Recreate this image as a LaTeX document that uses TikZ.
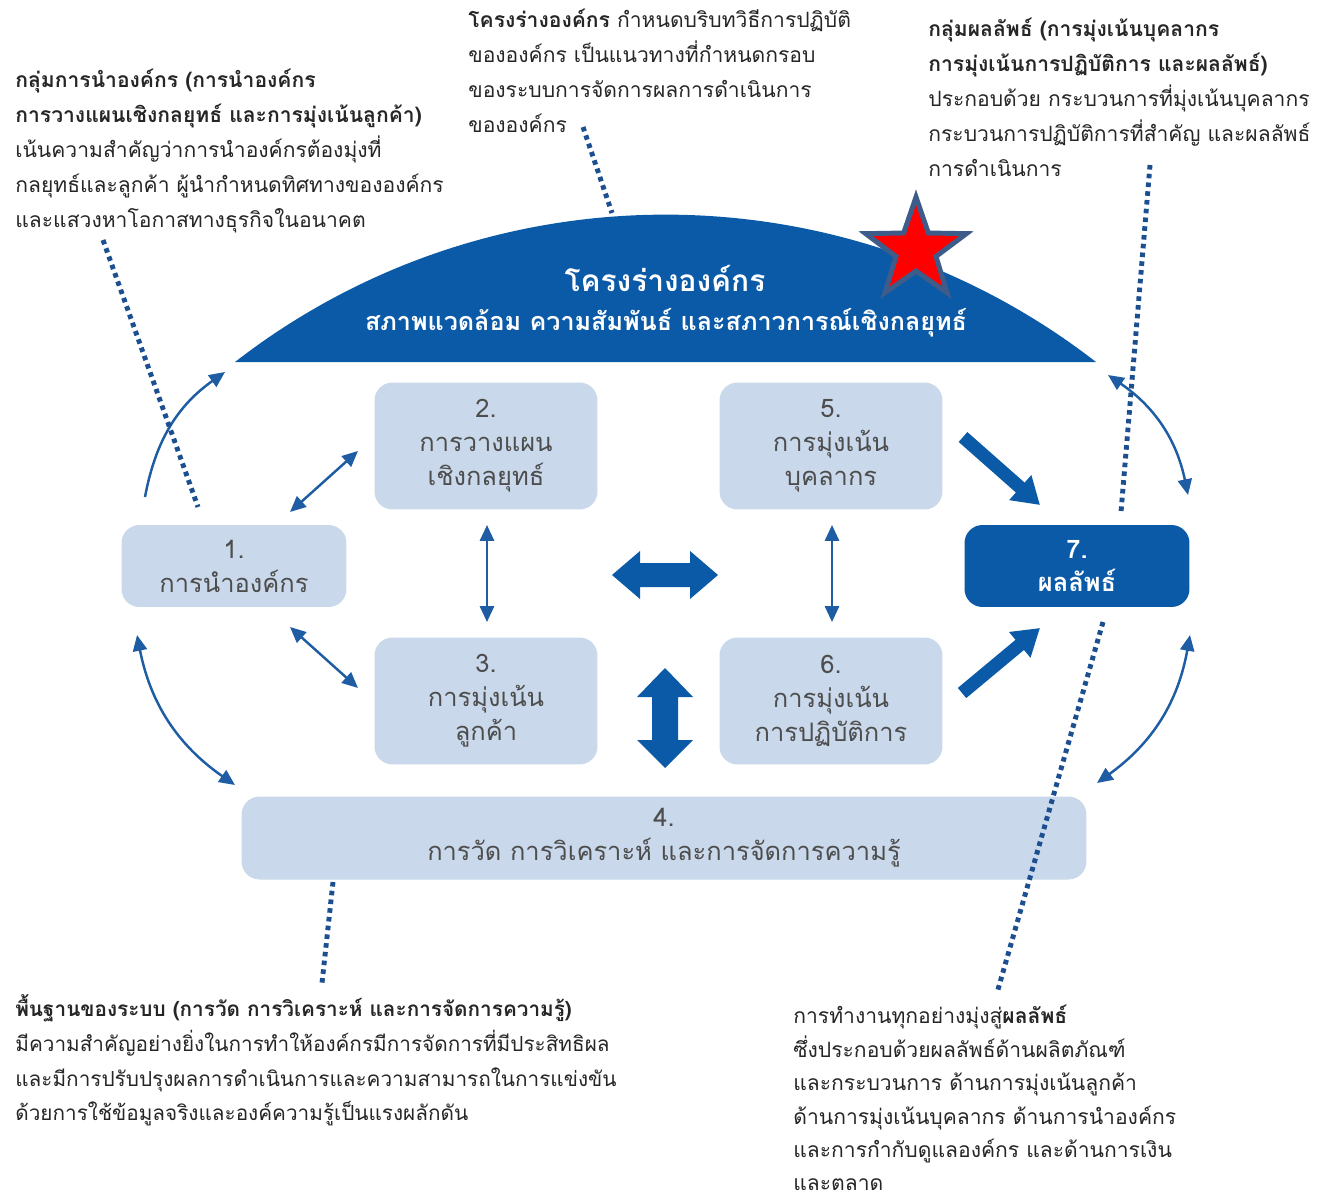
\documentclass[tikz,border=0pt]{standalone}
\usepackage{fontspec}
\setmainfont[Script=Thai]{Loma}
\usetikzlibrary{arrows.meta}
\definecolor{domeblue}{HTML}{0B5AA7}
\definecolor{boxfill}{HTML}{C9D8EA}
\definecolor{boxtext}{HTML}{4D4D4D}
\definecolor{linkblue}{HTML}{1E5DA3}
\definecolor{dotnavy}{HTML}{1C4F8F}
\definecolor{notetext}{HTML}{262626}
\definecolor{starline}{HTML}{3E5C8A}
\definecolor{starfill}{HTML}{FF0000}

\begin{document}
\begin{tikzpicture}[x=0.02cm,y=0.02cm,
  lbox/.style={rectangle, rounded corners=0.36cm, fill=boxfill, text=boxtext,
    align=center, inner sep=0pt, font=\fontsize{14.5}{19.3}\selectfont},
  dbox/.style={rectangle, rounded corners=0.36cm, fill=domeblue, text=white,
    align=center, inner sep=0pt, font=\bfseries\fontsize{14.5}{19.3}\selectfont},
  note/.style={anchor=north west, align=left, inner sep=0pt, text=notetext,
    font=\fontsize{12}{19.85}\selectfont},
  twohead/.style={draw=linkblue, line width=1.4pt,
    arrows={Triangle[length=9pt,width=8pt]-Triangle[length=9pt,width=8pt]}},
  onehead/.style={draw=linkblue, line width=1.4pt,
    arrows={-Triangle[length=9pt,width=8pt]}},
  bigarrow/.style={draw=domeblue, line width=7.5pt,
    arrows={-Triangle[length=15pt,width=18pt]}},
  dotlink/.style={draw=dotnavy, line width=2.8pt, dash pattern=on 2.6pt off 2.4pt},
  blockarrow/.style={fill=domeblue, draw=none}
]
% canvas
\fill[white] (0,0) rectangle (1328,-1203);

% dome of the organizational profile
\fill[domeblue] (235,-362) arc[start angle=127.8, end angle=52.2, radius=702.4] -- cycle;
\node[text=white, font=\bfseries\fontsize{17}{20}\selectfont] (domeA) at (665,-278) {โครงร่างองค์กร};
\node[text=white, font=\bfseries\fontsize{14.3}{17}\selectfont] (domeB) at (666,-323) {สภาพแวดล้อม ความสัมพันธ์ และสภาวการณ์เชิงกลยุทธ์};

% star mark on the dome
\begin{scope}[shift={(916,-250)}]
  \draw[fill=starfill, draw=starline, line width=2.8pt, line join=miter]
    (90:53) -- (126:21) -- (162:53) -- (198:21) -- (234:53) -- (270:21)
    -- (306:53) -- (342:21) -- (18:53) -- (54:21) -- cycle;
\end{scope}

% category boxes
\node[lbox, minimum width=4.5cm, minimum height=1.64cm] (b1) at (234,-566) {1.\\การนำองค์กร};
\node[lbox, minimum width=4.46cm, minimum height=2.54cm] (b2) at (486,-446) {2.\\การวางแผน\\เชิงกลยุทธ์};
\node[lbox, minimum width=4.46cm, minimum height=2.54cm] (b3) at (486,-701) {3.\\การมุ่งเน้น\\ลูกค้า};
\node[lbox, minimum width=4.46cm, minimum height=2.54cm] (b5) at (831,-446) {5.\\การมุ่งเน้น\\บุคลากร};
\node[lbox, minimum width=4.46cm, minimum height=2.54cm] (b6) at (831,-701) {6.\\การมุ่งเน้น\\การปฏิบัติการ};
\node[lbox, minimum width=16.9cm, minimum height=1.66cm] (b4) at (664,-838) {4.\\การวัด การวิเคราะห์ และการจัดการความรู้};
\node[dbox, minimum width=4.5cm, minimum height=1.64cm] (b7) at (1077,-566) {7.\\ผลลัพธ์};

% block double arrows in the middle
\fill[blockarrow] (612,-575) -- (640,-551) -- (640,-563) -- (690,-563) -- (690,-551)
  -- (718,-575) -- (690,-599) -- (690,-587) -- (640,-587) -- (640,-599) -- cycle;
\fill[blockarrow] (665,-668) -- (693,-697) -- (678,-697) -- (678,-740) -- (693,-740)
  -- (665,-768) -- (637,-740) -- (652,-740) -- (652,-697) -- (637,-697) -- cycle;

% connector end points
\coordinate (c1up) at (145,-497);
\coordinate (cdomeL) at (225,-372);
\coordinate (c12a) at (290,-512);
\coordinate (c12b) at (358,-451);
\coordinate (c13a) at (290,-627);
\coordinate (c13b) at (358,-688);
\coordinate (c23a) at (487,-525);
\coordinate (c23b) at (487,-622);
\coordinate (c56a) at (832,-525);
\coordinate (c56b) at (832,-622);
\coordinate (c14a) at (137,-635);
\coordinate (c14b) at (235,-785);
\coordinate (cdomeR) at (1108,-375);
\coordinate (c7up) at (1188,-495);
\coordinate (c7dn) at (1190,-635);
\coordinate (c4R) at (1097,-783);
\coordinate (c57a) at (963,-437);
\coordinate (c57b) at (1040,-505);
\coordinate (c67a) at (962,-693);
\coordinate (c67b) at (1040,-628);

% thin links
\draw[onehead] (c1up) to[bend left=22] (cdomeL);
\draw[twohead] (c12a) -- (c12b);
\draw[twohead] (c13a) -- (c13b);
\draw[twohead] (c23a) -- (c23b);
\draw[twohead] (c56a) -- (c56b);
\draw[twohead] (c14a) to[bend right=22] (c14b);
\draw[twohead] (cdomeR) to[bend left=22] (c7up);
\draw[twohead] (c7dn) to[bend left=22] (c4R);

% thick links into results
\draw[bigarrow] (c57a) -- (c57b);
\draw[bigarrow] (c67a) -- (c67b);

% explanatory notes
\node[note] (nA) at (15,-69) {\textbf{กลุ่มการนำองค์กร (การนำองค์กร}\\
  \textbf{การวางแผนเชิงกลยุทธ์ และการมุ่งเน้นลูกค้า)}\\
  เน้นความสำคัญว่าการนำองค์กรต้องมุ่งที่\\
  กลยุทธ์และลูกค้า ผู้นำกำหนดทิศทางขององค์กร\\
  และแสวงหาโอกาสทางธุรกิจในอนาคต};
\node[note] (nB) at (468,-9) {\textbf{โครงร่างองค์กร} กำหนดบริบทวิธีการปฏิบัติ\\
  ขององค์กร เป็นแนวทางที่กำหนดกรอบ\\
  ของระบบการจัดการผลการดำเนินการ\\
  ขององค์กร};
\node[note] (nC) at (928,-18) {\textbf{กลุ่มผลลัพธ์ (การมุ่งเน้นบุคลากร}\\
  \textbf{การมุ่งเน้นการปฏิบัติการ และผลลัพธ์)}\\
  ประกอบด้วย กระบวนการที่มุ่งเน้นบุคลากร\\
  กระบวนการปฏิบัติการที่สำคัญ และผลลัพธ์\\
  การดำเนินการ};
\node[note, font=\fontsize{11.8}{19.85}\selectfont] (nD) at (15,-994) {\textbf{พื้นฐานของระบบ (การวัด การวิเคราะห์ และการจัดการความรู้)}\\
  มีความสำคัญอย่างยิ่งในการทำให้องค์กรมีการจัดการที่มีประสิทธิผล\\
  และมีการปรับปรุงผลการดำเนินการและความสามารถในการแข่งขัน\\
  ด้วยการใช้ข้อมูลจริงและองค์ความรู้เป็นแรงผลักดัน};
\node[note, font=\fontsize{12}{19.0}\selectfont] (nE) at (793,-1005) {การทำงานทุกอย่างมุ่งสู่\textbf{ผลลัพธ์}\\
  ซึ่งประกอบด้วยผลลัพธ์ด้านผลิตภัณฑ์\\
  และกระบวนการ ด้านการมุ่งเน้นลูกค้า\\
  ด้านการมุ่งเน้นบุคลากร ด้านการนำองค์กร\\
  และการกำกับดูแลองค์กร และด้านการเงิน\\
  และตลาด};

% dotted leaders from the notes
\coordinate (dA1) at (103,-240);
\coordinate (dA2) at (198,-507);
\coordinate (dB1) at (583,-127);
\coordinate (dB2) at (612,-213);
\coordinate (dC1) at (1150,-165);
\coordinate (dC2) at (1121,-512);
\coordinate (dD1) at (333,-882);
\coordinate (dD2) at (322,-983);
\coordinate (dE1) at (1103,-622);
\coordinate (dE2) at (997,-993);
\draw[dotlink] (dA1) -- (dA2);
\draw[dotlink] (dB1) -- (dB2);
\draw[dotlink] (dC1) -- (dC2);
\draw[dotlink] (dD1) -- (dD2);
\draw[dotlink] (dE1) -- (dE2);
\end{tikzpicture}
\end{document}
